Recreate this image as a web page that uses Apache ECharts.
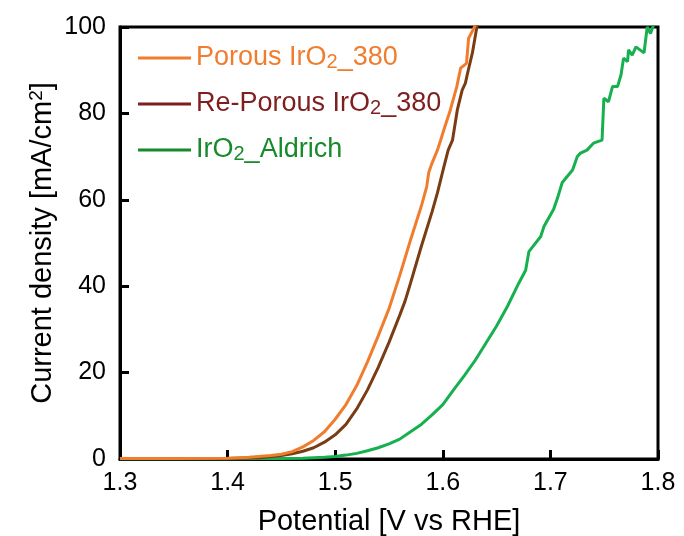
<!DOCTYPE html>
<html>
<head>
<meta charset="utf-8">
<script src="https://cdn.jsdelivr.net/npm/echarts@6/dist/echarts.min.js"></script>
<style>
html,body{margin:0;padding:0;background:#fff;}
#chart{width:684px;height:536px;}
</style>
</head>
<body>
<div id="chart"></div>
<script>
// ---- data ----
var seriesNames = ['Porous IrO2_380', 'Re-Porous IrO2_380', 'IrO2_Aldrich'];

var porousV = [1.30, 1.35, 1.40, 1.42, 1.44, 1.45, 1.46, 1.47, 1.48, 1.49, 1.50, 1.51, 1.52, 1.53, 1.54, 1.55, 1.56, 1.57, 1.58, 1.585, 1.587, 1.590, 1.595, 1.598, 1.601, 1.607, 1.613, 1.6166, 1.622, 1.624, 1.6305];
var porousJ = [0.1, 0.1, 0.2, 0.4, 0.8, 1.1, 1.7, 2.8, 4.3, 6.3, 9.2, 12.6, 17.0, 22.5, 28.5, 34.8, 42.5, 50.7, 58.5, 63.0, 66.4, 68.5, 71.5, 73.8, 76.2, 80.8, 86.2, 90.5, 91.6, 97.4, 100.5];

var rePorousV = [1.30, 1.40, 1.43, 1.45, 1.46, 1.47, 1.48, 1.49, 1.50, 1.51, 1.52, 1.53, 1.54, 1.55, 1.56, 1.565, 1.57, 1.58, 1.59, 1.595, 1.601, 1.605, 1.609, 1.6135, 1.618, 1.621, 1.623, 1.6275, 1.632];
var rePorousJ = [0.05, 0.1, 0.3, 0.8, 1.2, 1.8, 2.6, 3.9, 5.6, 8.0, 11.6, 16.0, 21.2, 27.0, 33.3, 36.6, 40.7, 49.2, 57.2, 61.6, 67.6, 71.5, 73.8, 80.8, 85.4, 87.0, 89.3, 94.0, 100.5];

var aldrichV = [1.30, 1.40, 1.45, 1.47, 1.49, 1.50, 1.51, 1.52, 1.53, 1.54, 1.55, 1.56, 1.57, 1.58, 1.59, 1.60, 1.61, 1.62, 1.63, 1.64, 1.65, 1.66, 1.6706, 1.677, 1.680, 1.691, 1.694, 1.703, 1.7066, 1.711, 1.7206, 1.725, 1.728, 1.734, 1.740, 1.748, 1.7497, 1.754, 1.7577, 1.7624, 1.7656, 1.768, 1.7717, 1.7726, 1.776, 1.7795, 1.787, 1.790, 1.793, 1.796];
var aldrichJ = [0.0, 0.0, 0.1, 0.2, 0.4, 0.6, 0.9, 1.3, 1.9, 2.6, 3.5, 4.6, 6.3, 8.0, 10.2, 12.6, 16.0, 19.3, 22.8, 26.8, 30.8, 35.3, 40.7, 43.7, 48.0, 51.5, 53.8, 57.8, 60.4, 64.0, 66.9, 70.0, 70.8, 71.5, 73.1, 73.8, 83.5, 82.7, 86.2, 86.2, 88.9, 92.8, 92.0, 94.7, 93.5, 95.4, 94.0, 100.0, 98.5, 100.5];

var xTicks = [1.3, 1.4, 1.5, 1.6, 1.7, 1.8];
var yTicks = [0, 20, 40, 60, 80, 100];

// ---- styles ----
var lineColors = ['#F07D2E', '#7A3C12', '#16B04E'];
var legendColors = ['#F07D2E', '#7F1E1E', '#178A2A'];
var FONT = '"Liberation Sans", Arial, sans-serif';

function zip(v, j) { return v.map(function (x, i) { return [x, j[i]]; }); }

var chart = echarts.init(document.getElementById('chart'));

var richKeys = ['o', 'r', 'g'];
var rich = {};
legendColors.forEach(function (c, i) {
  rich[richKeys[i]] = { color: c, fontSize: 27, lineHeight: 28, fontFamily: FONT };
  rich[richKeys[i] + 's'] = { color: c, fontSize: 20, lineHeight: 22, fontFamily: FONT, verticalAlign: 'bottom' };
});

function legendFmt(name) {
  var i = seriesNames.indexOf(name);
  var k = richKeys[i];
  var idx = name.indexOf('2_');
  return '{' + k + '|' + name.slice(0, idx) + '}{' + k + 's|2}{' + k + '|' + name.slice(idx + 1) + '}';
}

var option = {
  animation: false,
  backgroundColor: '#fff',
  grid: {
    left: 120, right: 26, top: 27, bottom: 77,
    outerBoundsMode: 'none',
    containLabel: false,
    show: true, borderColor: '#000', borderWidth: 3, backgroundColor: 'transparent'
  },
  legend: {
    orient: 'vertical',
    left: 133, top: 39,
    itemWidth: 53, itemHeight: 3,
    itemGap: 18,
    icon: 'rect',
    formatter: legendFmt,
    textStyle: { fontFamily: FONT, fontSize: 27, rich: rich, padding: [0, 0, 0, 0], lineHeight: 28 },
    data: seriesNames.map(function (n, i) {
      return { name: n, itemStyle: { color: legendColors[i] } };
    })
  },
  xAxis: {
    type: 'value',
    min: 1.3, max: 1.8, interval: 0.1,
    name: 'Potential [V vs RHE]',
    nameLocation: 'middle',
    nameGap: 48,
    nameMoveOverlap: false,
    nameTextStyle: { fontFamily: FONT, fontSize: 29, color: '#000' },
    axisLine: { show: true, onZero: false, lineStyle: { color: '#000', width: 3 } },
    axisTick: { show: true, inside: true, length: 9, lineStyle: { color: '#000', width: 3 } },
    axisLabel: {
      margin: 12, fontFamily: FONT, fontSize: 25, color: '#000',
      formatter: function (v) { return v.toFixed(1); }
    },
    splitLine: { show: false }
  },
  yAxis: {
    type: 'value',
    min: 0, max: 100, interval: 20,
    name: '{a|Current density [mA/cm}{s|2}{a|]}',
    nameLocation: 'middle',
    nameRotate: 90,
    nameGap: 62,
    nameMoveOverlap: false,
    nameTextStyle: {
      fontFamily: FONT, fontSize: 29, color: '#000',
      rich: {
        a: { fontFamily: FONT, fontSize: 29, color: '#000' },
        s: { fontFamily: FONT, fontSize: 19, color: '#000', verticalAlign: 'top', padding: [0, 0, 12, 0] }
      }
    },
    axisLine: { show: true, onZero: false, lineStyle: { color: '#000', width: 3 } },
    axisTick: { show: true, inside: true, length: 9, lineStyle: { color: '#000', width: 3 } },
    axisLabel: { margin: 14, fontFamily: FONT, fontSize: 25, color: '#000' },
    splitLine: { show: false }
  },
  series: [
    { name: seriesNames[0], type: 'line', data: zip(porousV, porousJ), color: lineColors[0] },
    { name: seriesNames[1], type: 'line', data: zip(rePorousV, rePorousJ), color: lineColors[1] },
    { name: seriesNames[2], type: 'line', data: zip(aldrichV, aldrichJ), color: lineColors[2] }
  ].map(function (s, i) {
    s.showSymbol = false;
    s.symbol = 'none';
    s.clip = true;
    s.lineStyle = { width: 3, color: lineColors[i] };
    s.z = 5 - i;
    return s;
  })
};
chart.setOption(option);
</script>
</body>
</html>
